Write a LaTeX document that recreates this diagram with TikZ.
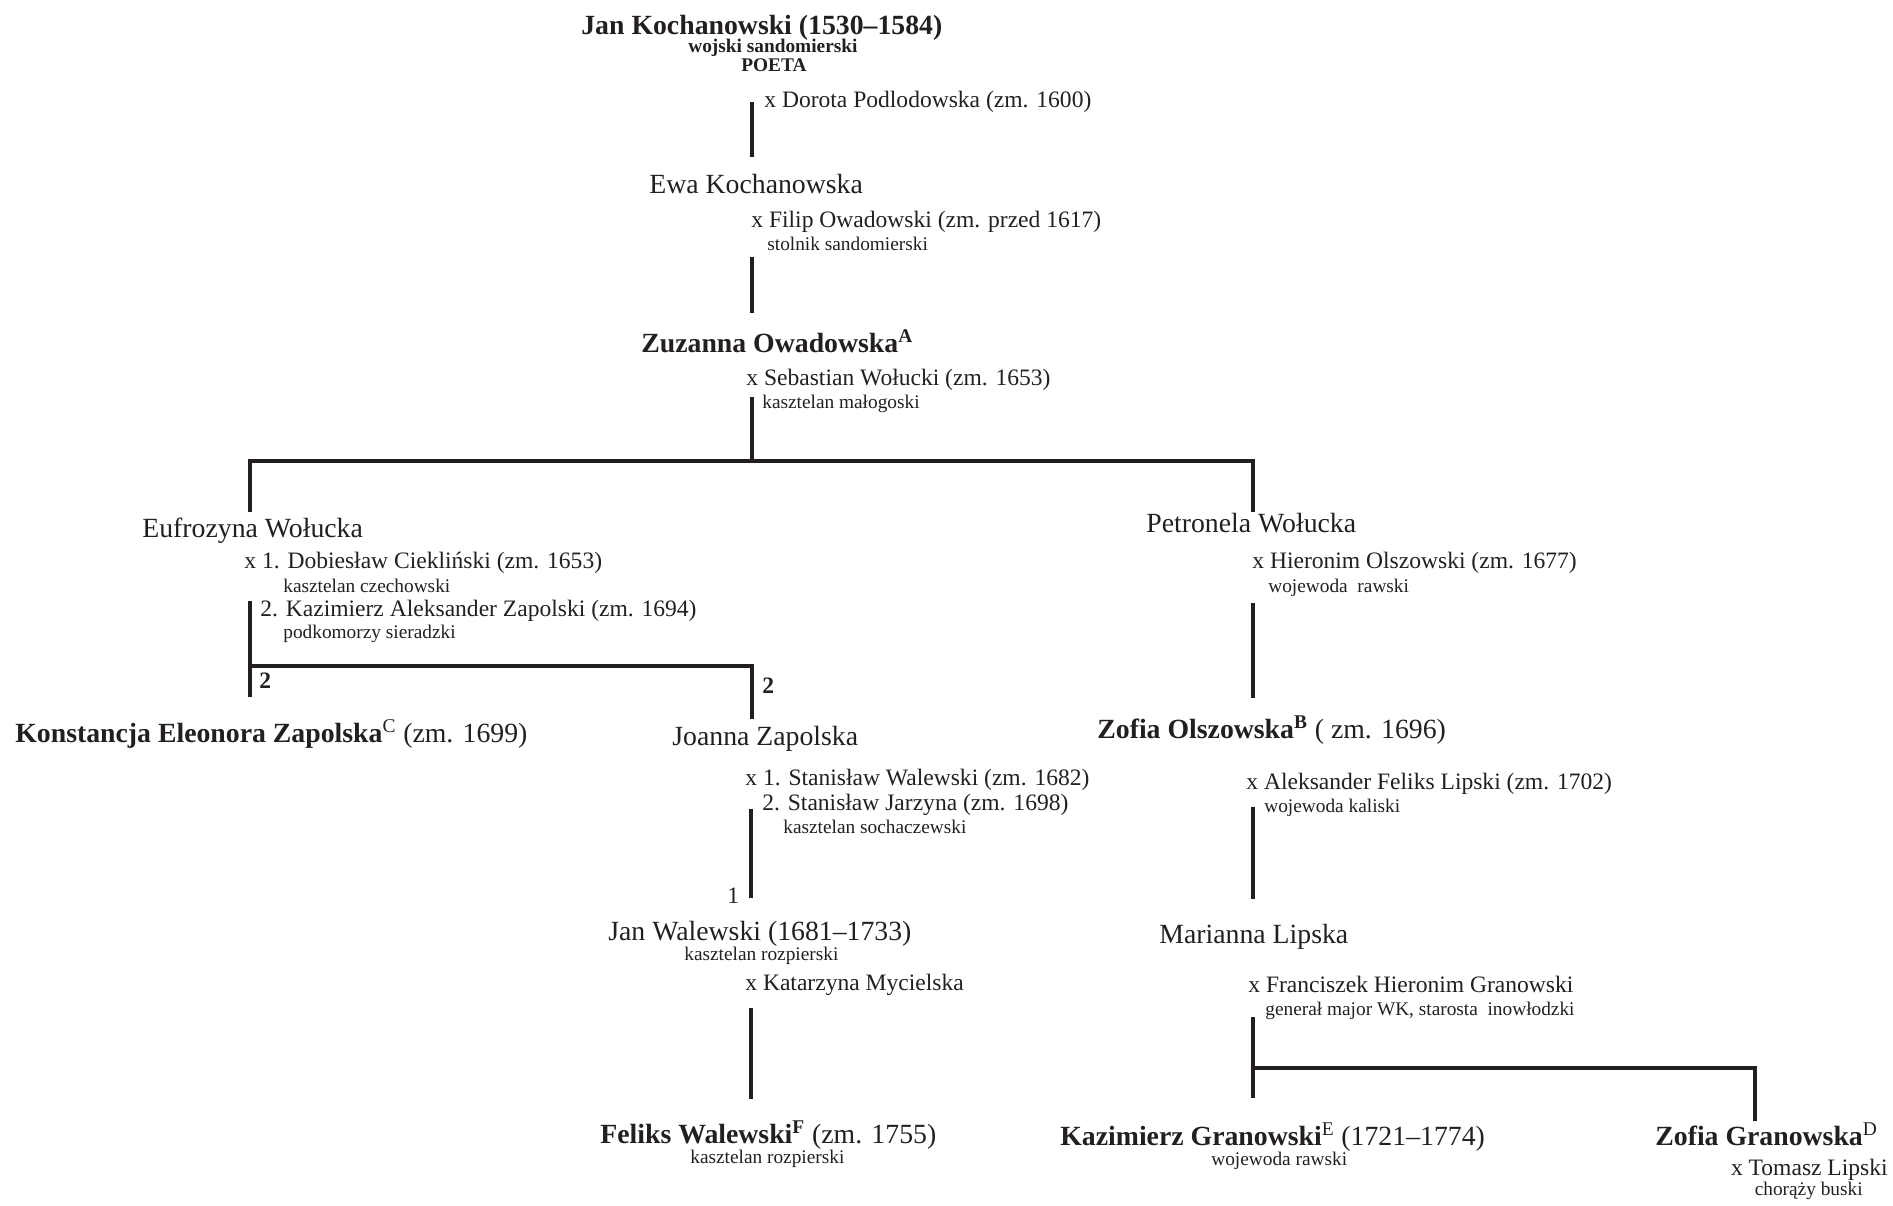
\documentclass[tikz,border=0pt]{standalone}
\usepackage{fontspec}
\setmainfont{Liberation Serif}
\usepackage{tikz}
\definecolor{ink}{HTML}{231F20}

\begin{document}
\begin{tikzpicture}[x=0.2mm, y=-0.2mm,
  % common options for the people:
  person/.style = {anchor=base west, inner sep=0, text=ink,
              font=\fontsize{15.8}{18}\selectfont},
  % common options for the marriages:
  spouse/.style = {anchor=base west, inner sep=0, text=ink,
              font=\fontsize{13.4}{16}\selectfont},
  % common options for the offices:
  office/.style = {anchor=base west, inner sep=0, text=ink,
              font=\fontsize{11}{13}\selectfont},
  % common options for the lines:
  kin/.style = {draw=ink, line width=2pt}
	]
  \useasboundingbox (0,0) rectangle (1893,1205);

  % Kochanowski line
  \node[person] (jan) at (581,34) {\textbf{Jan Kochanowski (1530–1584)}};
  \node[office] (janA) at (688,52) {\textbf{wojski sandomierski}};
  \node[office] (janB) at (741,71) {\textbf{POETA}};
  \node[spouse] (dorota) at (764,107) {x Dorota Podlodowska (zm. 1600)};
  \node[person] (ewa) at (649,193) {Ewa Kochanowska};
  \node[spouse] (filip) at (751,227) {x Filip Owadowski (zm. przed 1617)};
  \node[office] (filipA) at (767,250) {stolnik sandomierski};
  \node[person] (zuzanna) at (641,352) {\textbf{Zuzanna Owadowska\textsuperscript{A}}};
  \node[spouse] (sebastian) at (746,385) {x Sebastian Wołucki (zm. 1653)};
  \node[office] (sebastianA) at (762,408) {kasztelan małogoski};

  % Eufrozyna
  \node[person] (eufrozyna) at (142,537) {Eufrozyna Wołucka};
  \node[spouse] (dobieslaw) at (244,568) {x 1. Dobiesław Ciekliński (zm. 1653)};
  \node[office] (dobieslawA) at (283,592) {kasztelan czechowski};
  \node[spouse] (kazimierz) at (260,616) {2. Kazimierz Aleksander Zapolski (zm. 1694)};
  \node[office] (kazimierzA) at (283,638) {podkomorzy sieradzki};
  \node[spouse] (twoA) at (259,688) {\textbf{2}};
  \node[spouse] (twoB) at (762,693) {\textbf{2}};
  \node[person] (konstancja) at (15,742) {\textbf{Konstancja Eleonora Zapolska}\textsuperscript{C} (zm. 1699)};
  \node[person] (joanna) at (672,745) {Joanna Zapolska};
  \node[spouse] (stanislawA) at (745,785) {x 1. Stanisław Walewski (zm. 1682)};
  \node[spouse] (stanislawB) at (762,810) {2. Stanisław Jarzyna (zm. 1698)};
  \node[office] (stanislawBA) at (783,833) {kasztelan sochaczewski};
  \node[spouse] (one) at (727,903) {1};
  \node[person] (janw) at (608,940) {Jan Walewski (1681–1733)};
  \node[office] (janwA) at (684,960) {kasztelan rozpierski};
  \node[spouse] (katarzyna) at (745,990) {x Katarzyna Mycielska};
  \node[person] (feliks) at (600,1143) {\textbf{Feliks Walewski\textsuperscript{F}} (zm. 1755)};
  \node[office] (feliksA) at (690,1163) {kasztelan rozpierski};

  % Petronela
  \node[person] (petronela) at (1146,532) {Petronela Wołucka};
  \node[spouse] (hieronim) at (1252,568) {x Hieronim Olszowski (zm. 1677)};
  \node[office] (hieronimA) at (1268,592) {wojewoda\ \ rawski};
  \node[person] (zofiaO) at (1097,738) {\textbf{Zofia Olszowska\textsuperscript{B}} ( zm. 1696)};
  \node[spouse] (aleksander) at (1246,789) {x Aleksander Feliks Lipski (zm. 1702)};
  \node[office] (aleksanderA) at (1264,812) {wojewoda kaliski};
  \node[person] (marianna) at (1159,943) {Marianna Lipska};
  \node[spouse] (franciszek) at (1248,992) {x Franciszek Hieronim Granowski};
  \node[office] (franciszekA) at (1265,1015) {generał major WK, starosta\ \ inowłodzki};
  \node[person] (kazimierzG) at (1060,1145) {\textbf{Kazimierz Granowski}\textsuperscript{E} (1721–1774)};
  \node[office] (kazimierzGA) at (1211,1165) {wojewoda rawski};
  \node[person] (zofiaG) at (1655,1145) {\textbf{Zofia Granowska}\textsuperscript{D}};
  \node[spouse, anchor=base east] (tomasz) at (1888,1175) {x Tomasz Lipski};
  \node[office, anchor=base east] (tomaszA) at (1863,1195) {chorąży buski};

  % line ends
  \coordinate (a1) at (752,102);   \coordinate (a2) at (752,157);
  \coordinate (b1) at (752,257);   \coordinate (b2) at (752,313);
  \coordinate (c1) at (752,397);   \coordinate (c2) at (752,461);
  \coordinate (cl) at (250,461);   \coordinate (cr) at (1253,461);
  \coordinate (e1) at (250,601);   \coordinate (e2) at (250,697);
  \coordinate (el) at (250,666);   \coordinate (er) at (752,666);
  \coordinate (j1) at (751,809);   \coordinate (j2) at (751,898);
  \coordinate (w1) at (751,1008);  \coordinate (w2) at (751,1099);
  \coordinate (p1) at (1253,603);  \coordinate (p2) at (1253,698);
  \coordinate (o1) at (1253,807);  \coordinate (o2) at (1253,899);
  \coordinate (m1) at (1253,1017); \coordinate (m2) at (1253,1098);
  \coordinate (ml) at (1253,1068); \coordinate (mr) at (1755,1068);

  \draw[kin] (a1) -- (a2);
  \draw[kin] (b1) -- (b2);
  \draw[kin] (c1) -- (c2);
  \draw[kin] ([yshift=-29] cl) -- (cl) -- (cr) -- ([yshift=-29] cr);
  \draw[kin] (e1) -- (e2);
  \draw[kin] (el) -- (er) -- ([yshift=-30] er);
  \draw[kin] (j1) -- (j2);
  \draw[kin] (w1) -- (w2);
  \draw[kin] (p1) -- (p2);
  \draw[kin] (o1) -- (o2);
  \draw[kin] (m1) -- (m2);
  \draw[kin] (ml) -- (mr) -- ([yshift=-30] mr);
\end{tikzpicture}
\end{document}
